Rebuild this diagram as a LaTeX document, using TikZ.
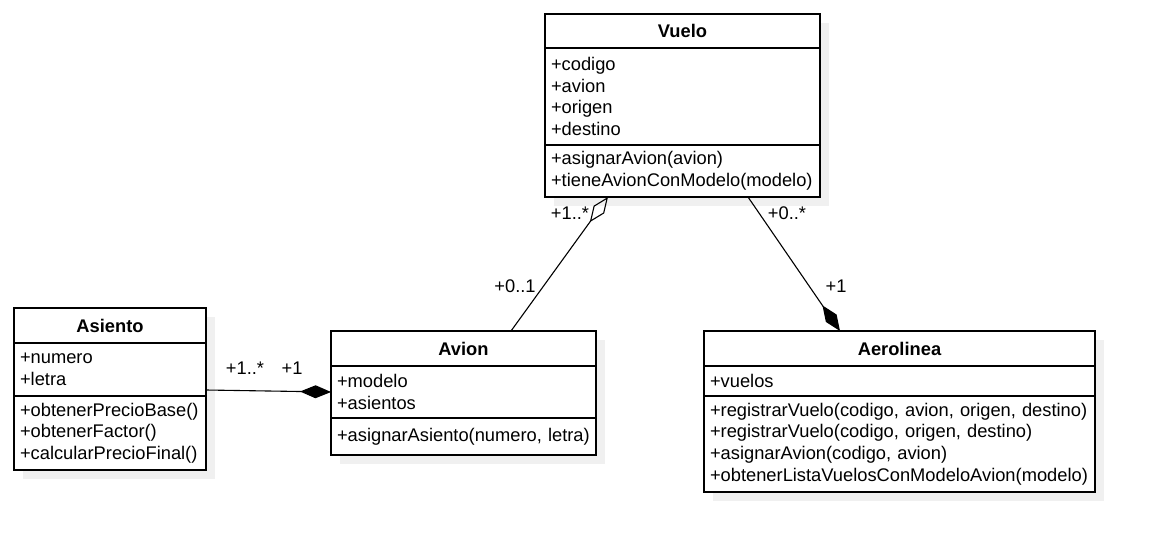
\documentclass[tikz,border=0pt]{standalone}
\usepackage{fontspec}
\setmainfont{Liberation Sans}
\usepackage{tikz}
\usetikzlibrary{arrows.meta,positioning,calc,shadows}
\definecolor{shadowgray}{RGB}{240,240,240}

\begin{document}
\begin{tikzpicture}[x=1pt, y=-1pt,
    every node/.style={font=\fontsize{18.3}{21.6}\selectfont},
    classhead/.style={draw, fill=white, line width=1.3pt, outer sep=0pt,
      inner xsep=6pt, inner ysep=0pt, text width=#1, align=center,
      font=\fontsize{18.3}{21.6}\selectfont\bfseries,
      drop shadow={shadow xshift=9pt, shadow yshift=-9pt, fill=shadowgray, opacity=1}},
    classpart/.style={draw, fill=white, line width=1.3pt, outer sep=0pt,
      inner xsep=6pt, inner ysep=0pt, text width=#1, align=left,
      execute at begin node={\hyphenpenalty=10000\relax},
      drop shadow={shadow xshift=9pt, shadow yshift=-9pt, fill=shadowgray, opacity=1}},
    link/.style={line width=1.1pt},
    mult/.style={inner sep=0pt}]
  \fill[white] (0,0) rectangle (1151,549);
  \useasboundingbox (0,0) rectangle (1151,549);

  % Vuelo
  \node[classhead=263pt, minimum height=34pt, anchor=north west] (vuelo) at (545,14) {Vuelo};
  \node[classpart=263pt, minimum height=97pt, below=0pt of vuelo] (vueloattr)
    {+codigo\\+avion\\+origen\\+destino};
  \node[classpart=263pt, minimum height=52pt, below=0pt of vueloattr] (vuelometh)
    {+asignarAvion(avion)\\+tieneAvionConModelo(modelo)};

  % Asiento
  \node[classhead=180pt, minimum height=35pt, anchor=north west] (asiento) at (14,308) {Asiento};
  \node[classpart=180pt, minimum height=53pt, below=0pt of asiento] (asientoattr)
    {+numero\\+letra};
  \node[classpart=180pt, minimum height=74pt, below=0pt of asientoattr] (asientometh)
    {+obtenerPrecioBase()\\+obtenerFactor()\\+calcularPrecioFinal()};

  % Avion
  \node[classhead=253pt, minimum height=35pt, anchor=north west] (avion) at (331,331) {Avion};
  \node[classpart=253pt, minimum height=52pt, below=0pt of avion] (avionattr)
    {+modelo\\+asientos};
  \node[classpart=253pt, minimum height=37pt, below=0pt of avionattr] (avionmeth)
    {+asignarAsiento(numero, letra)};

  % Aerolinea
  \node[classhead=379pt, minimum height=35pt, anchor=north west] (aerolinea) at (704,331) {Aerolinea};
  \node[classpart=379pt, minimum height=30pt, below=0pt of aerolinea] (aerolineaattr)
    {+vuelos};
  \node[classpart=379pt, minimum height=96pt, below=0pt of aerolineaattr] (aerolineameth)
    {+registrarVuelo(codigo, avion, origen, destino)\\+registrarVuelo(codigo, origen, destino)\\+asignarAvion(codigo, avion)\\+obtenerListaVuelosConModeloAvion(modelo)};

  % connector ends
  \coordinate (vueloL) at ($(vuelometh.south west)+(63pt,0pt)$);
  \coordinate (vueloR) at ($(vuelometh.south west)+(203pt,0pt)$);
  \coordinate (avionT) at ($(avion.north west)+(180pt,0pt)$);
  \coordinate (aerolineaT) at ($(aerolinea.north west)+(136pt,0pt)$);
  \coordinate (asientoR) at ($(asientoattr.south east)+(0pt,6pt)$);

  % associations
  \draw[link, -{Diamond[open, length=31pt, width=13pt]}] (avionT) -- (vueloL);
  \draw[link, -{Diamond[length=31pt, width=13pt]}] (vueloR) -- (aerolineaT);
  \draw[link, -{Diamond[length=31pt, width=13pt]}] (asientoR) -- (avionattr.west);

  % multiplicities
  \node[mult] (m1) at (570,213) {+1..*};
  \node[mult] (m2) at (515,286) {+0..1};
  \node[mult] (m3) at (787,213) {+0..*};
  \node[mult] (m4) at (836,286) {+1};
  \node[mult] (m5) at (245,368) {+1..*};
  \node[mult] (m6) at (292,368) {+1};
\end{tikzpicture}
\end{document}
